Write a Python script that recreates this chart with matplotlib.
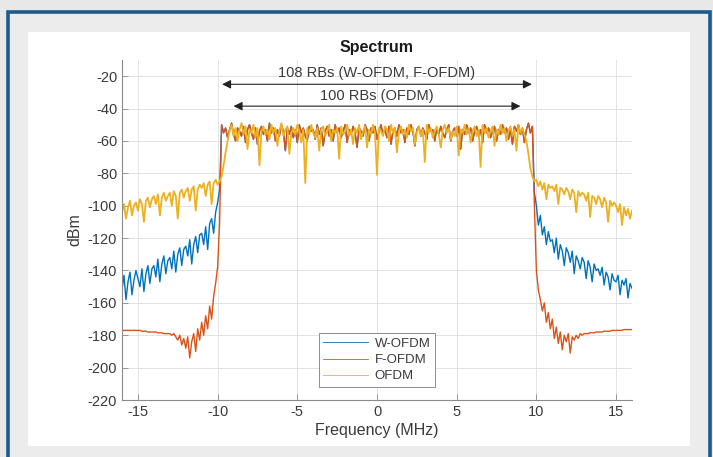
import numpy as np
import matplotlib
matplotlib.use('Agg')
import matplotlib.pyplot as plt
from matplotlib.patches import Rectangle

# frequency grid: 0.125 MHz steps across the +/-16 MHz span (257 bins)
freq_mhz = np.linspace(-16, 16, 257)

# W-OFDM power (dBm), lower skirt -16 .. -9.875 MHz
wofdm_left = [-152, -143, -158, -147, -141, -155, -146, -140,
              -145, -150, -139, -153, -142, -137, -148, -139,
              -137, -144, -133, -147, -136, -131, -142, -134,
              -132, -139, -128, -141, -130, -126, -137, -127,
              -125, -131, -121, -136, -124, -119, -129, -118,
              -117, -124, -113, -127, -111, -108, -117, -104,
              -98, -90]

# 108 RB occupied band, -9.75 .. 9.75 MHz (W-OFDM and F-OFDM)
wf_inband = [-50, -55, -52, -58, -53, -49, -56, -60, -52, -54,
             -57, -51, -61, -53, -50, -55, -59, -52, -62, -54,
             -51, -56, -53, -60, -49, -55, -52, -60, -53, -57,
             -50, -54, -66, -52, -56, -51, -58, -53, -61, -50,
             -55, -52, -57, -60, -51, -54, -53, -59, -50, -56,
             -52, -63, -54, -51, -57, -53, -60, -50, -55, -52,
             -58, -54, -50, -61, -53, -56, -51, -55, -64, -52,
             -54, -57, -50, -53, -60, -52, -55, -51, -59, -54,
             -50, -56, -53, -58, -51, -62, -54, -52, -57, -50,
             -55, -53, -61, -52, -56, -50, -54, -63, -53, -51,
             -57, -52, -55, -59, -50, -54, -53, -60, -52, -56,
             -51, -55, -58, -53, -50, -60, -54, -52, -57, -51,
             -65, -53, -56, -50, -55, -52, -60, -54, -51, -57,
             -53, -61, -50, -55, -52, -58, -54, -51, -60, -53,
             -56, -50, -55, -52, -59, -53, -62, -51, -54, -50,
             -56, -52, -61, -53, -49, -55, -51]

# W-OFDM upper skirt 9.875 .. 16 MHz
wofdm_right = [-92, -100, -112, -106, -118, -113, -124, -116, -122,
               -121, -129, -120, -133, -124, -128, -137, -126,
               -129, -135, -128, -142, -131, -134, -139, -132,
               -135, -145, -134, -138, -147, -136, -140, -139,
               -143, -138, -149, -141, -144, -152, -142, -146,
               -147, -143, -155, -146, -149, -145, -157, -148, -151]

# F-OFDM skirts
fofdm_left = [-177, -177, -177, -177, -177, -177, -177, -177,
              -177, -177, -177.5, -177.5, -177.5, -178, -178, -178,
              -178, -178, -178.5, -178.5, -178.5, -179, -179, -179,
              -179, -180, -179, -181, -183, -180, -186, -182,
              -188, -181, -194, -184, -179, -190, -176, -183,
              -172, -180, -168, -176, -162, -170, -156, -148,
              -138, -110]
fofdm_right = [-100, -140,
               -152, -158, -165, -160, -172, -166, -176, -170, -182, -175,
               -185, -178, -189, -180, -184, -179, -191, -181, -183, -180,
               -182, -179, -180,
               -179, -179, -179, -178.5, -178.5, -178.5, -178, -178, -178,
               -178, -177.5, -177.5, -177.5, -177.5, -177, -177, -177, -177,
               -177, -177, -176.5, -176.5, -176.5, -176.5, -176.5]

# OFDM: lower skirt -16 .. -9.375, 100 RB band -9.25 .. 9.25, upper skirt 9.375 .. 16
ofdm_left = [-104, -99, -108, -101, -97, -106, -100, -98,
             -103, -96, -99, -110, -97, -95, -101, -96,
             -94, -99, -93, -106, -95, -92, -97, -94,
             -92, -100, -91, -94, -108, -92, -90, -95,
             -91, -89, -97, -90, -88, -103, -90, -87,
             -89, -86, -94, -87, -85, -99, -86, -84,
             -87, -85, -82, -75, -67, -60]
ofdm_inband = [-54, -50, -57, -52, -60, -53, -49, -56, -51, -65,
               -53, -55, -50, -58, -52, -75, -54, -51, -56, -53,
               -59, -50, -55, -52, -63, -54, -49, -57, -53, -51,
               -68, -55, -52, -56, -50, -54, -61, -53, -86, -52,
               -56, -50, -55, -58, -52, -66, -53, -51, -57, -54,
               -50, -60, -53, -55, -52, -71, -51, -56, -54, -50,
               -57, -53, -62, -52, -55, -50, -59, -54, -51, -64,
               -53, -56, -50, -55, -81, -52, -54, -57, -51, -53,
               -60, -50, -55, -52, -67, -54, -51, -56, -53, -58,
               -50, -54, -52, -62, -55, -51, -57, -53, -73, -50,
               -55, -52, -58, -54, -51, -56, -64, -53, -50, -55,
               -52, -59, -54, -57, -51, -69, -53, -55, -50, -56,
               -52, -61, -54, -51, -57, -53, -76, -50, -55, -52,
               -58, -54, -51, -63, -53, -56, -50, -55, -52, -60,
               -54, -51, -57, -53, -66, -50, -55, -52, -56]
ofdm_right = [-60, -68, -77, -82, -85,
              -84, -88, -85, -90, -86, -96, -87, -89,
              -88, -91, -87, -99, -89, -90, -93, -89,
              -91, -96, -90, -92, -104, -91, -94, -92,
              -93, -97, -92, -107, -94, -95, -99, -94,
              -96, -101, -95, -98, -110, -97, -100, -98,
              -100, -104, -99, -112, -101, -106, -102, -108, -103]

series_names = ['W-OFDM', 'F-OFDM', 'OFDM']
series_colors = ['#0072BD', '#D95319', '#EDB120']
series_widths = [1.0, 1.0, 1.3]

# occupied bandwidths for the two arrow annotations (MHz)
rb_labels = ['108 RBs (W-OFDM, F-OFDM)', '100 RBs (OFDM)']
rb_bandwidth = [19.44, 18.0]

psd = [np.array(wofdm_left + wf_inband + wofdm_right),
       np.array(fofdm_left + wf_inband + fofdm_right),
       np.array(ofdm_left + ofdm_inband + ofdm_right)]

plt.rcParams['font.family'] = ['Liberation Sans', 'DejaVu Sans']
plt.rcParams['axes.unicode_minus'] = False

W, H = 713, 457
fig = plt.figure(figsize=(W / 100, H / 100), dpi=100, facecolor='#e8e8e8')


def px_rect(x0, y0, x1, y1, **kw):
    # rectangle given in pixel coordinates measured from the top-left corner
    return Rectangle((x0 / W, 1 - y1 / H), (x1 - x0) / W, (y1 - y0) / H,
                     transform=fig.transFigure, **kw)


# window frame and white figure area, kept behind the axes
fig.patches.append(px_rect(7.5, 11.5, 709.5, 470, facecolor='#ececec',
                           edgecolor='#1c5b8e', linewidth=2.6, zorder=-3))
fig.patches.append(px_rect(28, 32, 690, 446, facecolor='white',
                           edgecolor='none', zorder=-2))

ax = fig.add_axes([122 / W, 1 - 400 / H, 510 / W, 340 / H])
ax.set_zorder(2)
ax.set_facecolor('white')

for name, color, lw, values in zip(series_names, series_colors,
                                   series_widths, psd):
    ax.plot(freq_mhz, values, color=color, linewidth=lw, label=name)

ax.set_xlim(-16, 16)
ax.set_ylim(-220, -10)
ax.set_xticks(np.arange(-15, 16, 5))
ax.set_yticks(np.arange(-220, -19, 20))
ax.grid(True, color='#e3e3e3', linewidth=0.7)
ax.set_axisbelow(True)
for side in ['top', 'right']:
    ax.spines[side].set_visible(False)
for side in ['left', 'bottom']:
    ax.spines[side].set_color('#8a8a8a')
    ax.spines[side].set_linewidth(0.8)
ax.tick_params(direction='in', length=4, width=0.6, color='#8a8a8a',
               labelsize=10.5, labelcolor='#3a3a3a')

ax.set_xlabel('Frequency (MHz)', fontsize=11.5, color='#3a3a3a', labelpad=3)
ax.set_ylabel('dBm', fontsize=11.5, color='#3a3a3a', labelpad=4)
ax.set_title('Spectrum', fontsize=11.5, fontweight='bold', color='#1a1a1a',
             pad=6)

# occupied bandwidth arrows
arrow_y = [-25, -38.5]
text_y = [-18, -32]
for label, bw, ya, yt in zip(rb_labels, rb_bandwidth, arrow_y, text_y):
    ax.annotate('', xy=(-bw / 2, ya), xytext=(bw / 2, ya),
                arrowprops=dict(arrowstyle='<|-|>', color='#222222',
                                lw=0.8, mutation_scale=13,
                                shrinkA=0, shrinkB=0))
    ax.text(0, yt, label, ha='center', va='center', fontsize=10.5,
            color='#3a3a3a')

leg = ax.legend(loc='lower center', bbox_to_anchor=(0.5, 0.038),
                borderaxespad=0, fontsize=9.5, fancybox=False, framealpha=1,
                edgecolor='#8c8c8c', handlelength=3.4, borderpad=0.35,
                labelspacing=0.3, handletextpad=0.5)
leg.get_frame().set_linewidth(0.7)
for line in leg.get_lines():
    line.set_linewidth(0.6)
for text in leg.get_texts():
    text.set_color('#3a3a3a')

fig.savefig('out.png', dpi=100, facecolor=fig.get_facecolor())
